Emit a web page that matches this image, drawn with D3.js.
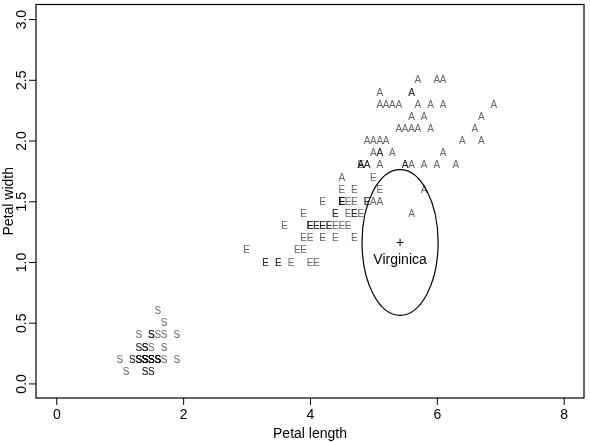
<!DOCTYPE html>
<html>
<head>
<meta charset="utf-8">
<script src="https://cdn.jsdelivr.net/npm/d3@7"></script>
<style>
  body { margin: 0; background: #fff; }
  text { font-family: "Liberation Sans", Arial, sans-serif; }
  .pt { mix-blend-mode: multiply; }
</style>
</head>
<body>
<svg id="chart" width="590" height="442" style="background:#fff"></svg>
<script>
// iris petal measurements, by species
const setosaLength = [1.4,1.4,1.3,1.5,1.4,1.7,1.4,1.5,1.4,1.5,1.5,1.6,1.4,1.1,1.2,1.5,1.3,1.4,1.7,1.5,1.7,1.5,1.0,1.7,1.9,1.6,1.6,1.5,1.4,1.6,1.6,1.5,1.5,1.4,1.5,1.2,1.3,1.4,1.3,1.5,1.3,1.3,1.3,1.6,1.9,1.4,1.6,1.4,1.5,1.4];
const setosaWidth  = [0.2,0.2,0.2,0.2,0.2,0.4,0.3,0.2,0.2,0.1,0.2,0.2,0.1,0.1,0.2,0.4,0.4,0.3,0.3,0.3,0.2,0.4,0.2,0.5,0.2,0.2,0.4,0.2,0.2,0.2,0.2,0.4,0.1,0.2,0.2,0.2,0.2,0.1,0.2,0.2,0.3,0.3,0.2,0.6,0.4,0.3,0.2,0.2,0.2,0.2];
const versicolorLength = [4.7,4.5,4.9,4.0,4.6,4.5,4.7,3.3,4.6,3.9,3.5,4.2,4.0,4.7,3.6,4.4,4.5,4.1,4.5,3.9,4.8,4.0,4.9,4.7,4.3,4.4,4.8,5.0,4.5,3.5,3.8,3.7,3.9,5.1,4.5,4.5,4.7,4.4,4.1,4.0,4.4,4.6,4.0,3.3,4.2,4.2,4.2,4.3,3.0,4.1];
const versicolorWidth  = [1.4,1.5,1.5,1.3,1.5,1.3,1.6,1.0,1.3,1.4,1.0,1.5,1.0,1.4,1.3,1.4,1.5,1.0,1.5,1.1,1.8,1.3,1.5,1.2,1.3,1.4,1.4,1.7,1.5,1.0,1.1,1.0,1.2,1.6,1.5,1.6,1.5,1.3,1.3,1.3,1.2,1.4,1.2,1.0,1.3,1.2,1.3,1.3,1.1,1.3];
const virginicaLength = [6.0,5.1,5.9,5.6,5.8,6.6,4.5,6.3,5.8,6.1,5.1,5.3,5.5,5.0,5.1,5.3,5.5,6.7,6.9,5.0,5.7,4.9,6.7,4.9,5.7,6.0,4.8,4.9,5.6,5.8,6.1,6.4,5.6,5.1,5.6,6.1,5.6,5.5,4.8,5.4,5.6,5.1,5.1,5.9,5.7,5.2,5.0,5.2,5.4,5.1];
const virginicaWidth  = [2.5,1.9,2.1,1.8,2.2,2.1,1.7,1.8,1.8,2.5,2.0,1.9,2.1,2.0,2.4,2.3,1.8,2.2,2.3,1.5,2.3,2.0,2.0,1.8,2.1,1.8,1.8,1.8,2.1,1.6,1.9,2.0,2.2,1.5,1.4,2.3,2.4,1.8,1.8,2.1,2.4,2.3,1.9,2.3,2.5,2.3,1.9,2.0,2.3,1.8];
const speciesLetters = ["S", "E", "A"];

const xTicks = [0, 2, 4, 6, 8];
const yTicks = [0, 0.5, 1, 1.5, 2, 2.5, 3];

// annotation circle (radius in data units)
const circleCenter = [5.42, 1.16];
const circleRadius = 0.6;
const circleLabel = "Virginica";

const svg = d3.select("#chart");
const box = { left: 36, right: 584, top: 4.5, bottom: 398 };

const x = d3.scaleLinear().domain([-0.32, 8.32]).range([box.left, box.right]);
const y = d3.scaleLinear().domain([-0.12, 3.12]).range([box.bottom, box.top]);

// axes
svg.append("g")
  .attr("transform", `translate(0,${box.bottom})`)
  .call(d3.axisBottom(x).tickValues(xTicks).tickSize(7).tickPadding(4).tickFormat(d3.format("d")))
  .call(g => g.select(".domain").remove())
  .call(g => g.selectAll("line").attr("stroke", "#000"))
  .call(g => g.selectAll("text").attr("font-size", 14).attr("fill", "#000")
    .attr("font-family", "Liberation Sans, Arial, sans-serif"));

const yAxis = svg.append("g")
  .attr("transform", `translate(${box.left},0)`)
  .call(d3.axisLeft(y).tickValues(yTicks).tickSize(7).tickFormat(d3.format(".1f")))
  .call(g => g.select(".domain").remove())
  .call(g => g.selectAll("line").attr("stroke", "#000"));
yAxis.selectAll("text")
  .attr("font-size", 14).attr("fill", "#000")
  .attr("font-family", "Liberation Sans, Arial, sans-serif")
  .attr("x", null).attr("dy", null)
  .attr("text-anchor", "middle")
  .attr("transform", "translate(-10,0) rotate(-90)");

// box
svg.append("rect")
  .attr("x", box.left).attr("y", box.top)
  .attr("width", box.right - box.left).attr("height", box.bottom - box.top)
  .attr("fill", "none").attr("stroke", "#000").attr("stroke-width", 1.2);

// axis titles
svg.append("text")
  .attr("x", (box.left + box.right) / 2).attr("y", 438)
  .attr("text-anchor", "middle").attr("font-size", 14)
  .text("Petal length");
svg.append("text")
  .attr("transform", `translate(13,${(box.top + box.bottom) / 2}) rotate(-90)`)
  .attr("text-anchor", "middle").attr("font-size", 14)
  .text("Petal width");

// points as letters
const series = [
  [setosaLength, setosaWidth],
  [versicolorLength, versicolorWidth],
  [virginicaLength, virginicaWidth]
];
series.forEach(([lens, wids], i) => {
  svg.append("g").selectAll("text")
    .data(lens.map((l, j) => [l, wids[j]]))
    .join("text")
    .attr("class", "pt")
    .attr("x", d => x(d[0]))
    .attr("y", d => y(d[1]))
    .attr("dy", "0.36em")
    .attr("text-anchor", "middle")
    .attr("font-size", 10)
    .attr("fill", "#666")
    .text(speciesLetters[i]);
});

// circle annotation
svg.append("ellipse")
  .attr("cx", x(circleCenter[0])).attr("cy", y(circleCenter[1]))
  .attr("rx", x(circleCenter[0] + circleRadius) - x(circleCenter[0]))
  .attr("ry", y(circleCenter[1]) - y(circleCenter[1] + circleRadius))
  .attr("fill", "none").attr("stroke", "#000").attr("stroke-width", 1.2);
svg.append("text")
  .attr("x", x(circleCenter[0])).attr("y", y(circleCenter[1]))
  .attr("dy", "0.35em")
  .attr("text-anchor", "middle").attr("font-size", 14)
  .text("+");
svg.append("text")
  .attr("x", x(circleCenter[0])).attr("y", y(circleCenter[1]) + 21)
  .attr("text-anchor", "middle").attr("font-size", 14)
  .text(circleLabel);
</script>
</body>
</html>
